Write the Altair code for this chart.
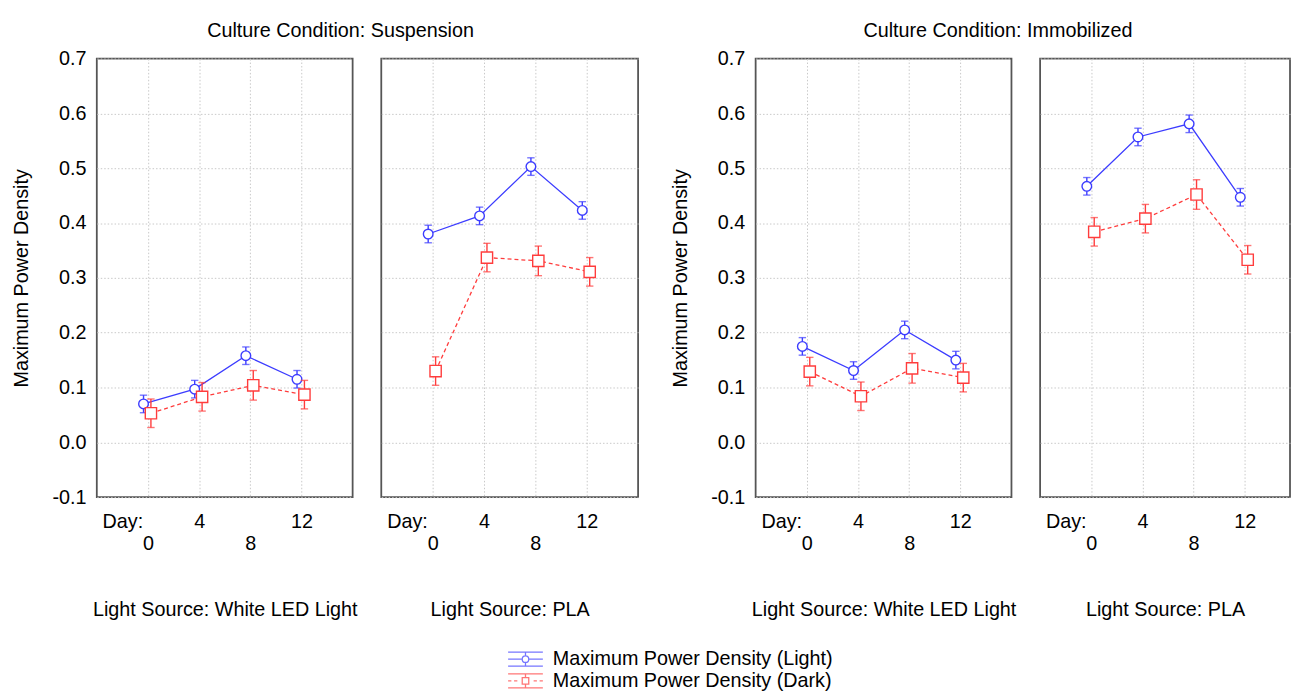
import altair as alt
import pandas as pd

# ---------------- data ----------------
days = [0, 4, 8, 12]

susp_white_light = [0.070, 0.097, 0.158, 0.115]
susp_white_dark = [0.053, 0.083, 0.104, 0.087]
susp_pla_light = [0.380, 0.413, 0.503, 0.423]
susp_pla_dark = [0.130, 0.337, 0.331, 0.311]
imm_white_light = [0.175, 0.131, 0.205, 0.150]
imm_white_dark = [0.129, 0.084, 0.135, 0.118]
imm_pla_light = [0.467, 0.557, 0.581, 0.447]
imm_pla_dark = [0.384, 0.408, 0.452, 0.333]

light_err = [0.016, 0.016, 0.016, 0.016]
dark_err = [0.026, 0.026, 0.027, 0.026]

y_ticks = [-0.1, 0.0, 0.1, 0.2, 0.3, 0.4, 0.5, 0.6, 0.7]
x_ticks = [-2, 0, 4, 8, 12]
legend_labels = ["Maximum Power Density (Light)", "Maximum Power Density (Dark)"]

FONT = "Liberation Sans"
FS = 20
BLUE = "#3c3cff"
RED = "#ff3c3c"
GRID = "#c8c8c8"
FRAME = "#555555"
LIGHT_OFF = -4.5
DARK_OFF = 3
PH = 444


def make_df(light, dark):
    rows = []
    for d, v, e in zip(days, light, light_err):
        rows.append({"day": d, "value": v, "lo": v - e, "hi": v + e, "series": "Light"})
    for d, v, e in zip(days, dark, dark_err):
        rows.append({"day": d, "value": v, "lo": v - e, "hi": v + e, "series": "Dark"})
    return pd.DataFrame(rows)


def panel(df, xtitle, width, xmax, show_y):
    xaxis = alt.Axis(
        values=x_ticks,
        labelExpr="datum.value == -2 ? 'Day:' : (datum.value % 8 == 0 ? ['', datum.label] : datum.label)",
        labelFontSize=FS, labelFont=FONT, labelColor="black", labelPadding=14.5,
        labelLineHeight=23, labelOverlap=False, labelBound=False, labelFlush=False,
        labelBaseline="top",
        ticks=False, domain=False,
        grid=True, gridColor=GRID, gridDash=[1.5, 2], gridWidth=1,
        gridOpacity={"condition": {"test": "datum.value == -2", "value": 0}, "value": 1},
        title=xtitle, titleFontSize=FS, titleFont=FONT, titleFontWeight="normal",
        titleColor="black", titlePadding=46.5,
    )
    xs = alt.Scale(domain=[-4, xmax], nice=False, zero=False)
    if show_y:
        yaxis = alt.Axis(
            values=y_ticks,
            labelExpr="datum.value < -0.0001 ? '-' + format(-datum.value, '.1f') : format(abs(datum.value), '.1f')",
            labelFontSize=FS, labelFont=FONT,
            labelColor="black", labelPadding=11, ticks=False, domain=False,
            grid=True, gridColor=GRID, gridDash=[1.5, 2],
            title="Maximum Power Density", titleFontSize=FS, titleFont=FONT,
            titleFontWeight="normal", titleColor="black", titlePadding=21,
        )
    else:
        yaxis = alt.Axis(
            values=y_ticks, labels=False, ticks=False, domain=False,
            grid=True, gridColor=GRID, gridDash=[1.5, 2], title="",
        )
    ys = alt.Scale(domain=[-0.1, 0.7], nice=False, zero=False)

    def X():
        return alt.X("day:Q", scale=xs, axis=xaxis)

    def Y(field):
        return alt.Y(f"{field}:Q", scale=ys, axis=yaxis)

    base = alt.Chart(df)
    layers = []
    for ser, col, off, dash, shape, size in [
        ("Light", BLUE, LIGHT_OFF, None, "circle", 95),
        ("Dark", RED, DARK_OFF, [4, 3], "square", 130),
    ]:
        b = base.transform_filter(f"datum.series == '{ser}'")
        line_kw = dict(color=col, strokeWidth=1.3, xOffset=off)
        if dash:
            line_kw["strokeDash"] = dash
        layers.append(b.mark_line(**line_kw).encode(x=X(), y=Y("value")))
        layers.append(
            b.mark_rule(color=col, strokeWidth=1.4, xOffset=off).encode(
                x=X(), y=Y("lo"), y2="hi:Q"
            )
        )
        for f in ["lo", "hi"]:
            layers.append(
                b.mark_tick(color=col, orient="horizontal", size=7.5, thickness=1.4,
                            xOffset=off).encode(x=X(), y=Y(f))
            )
        layers.append(
            b.mark_point(shape=shape, size=size, filled=True, fill="white",
                         stroke=col, strokeWidth=1.4, opacity=1, xOffset=off).encode(
                x=X(), y=Y("value")
            )
        )
    return alt.layer(*layers).properties(
        width=width, height=PH,
        view=alt.ViewBackground(stroke=FRAME, strokeWidth=1.8),
    )


p1 = panel(make_df(susp_white_light, susp_white_dark), "Light Source: White LED Light", 259, 16, True)
p2 = panel(make_df(susp_pla_light, susp_pla_dark), "Light Source: PLA", 260, 16, False)
p3 = panel(make_df(imm_white_light, imm_white_dark), "Light Source: White LED Light", 259, 16, True)
p4 = panel(make_df(imm_pla_light, imm_pla_dark), "Light Source: PLA", 253, 15.54, False)


def gtitle(text, dx):
    return alt.TitleParams(text, fontSize=FS, font=FONT, fontWeight="normal",
                           color="black", anchor="middle", offset=7, dx=dx)


g1 = alt.hconcat(p1, p2, spacing=22, title=gtitle("Culture Condition: Suspension", 16))
g2 = alt.hconcat(p3, p4, spacing=22, title=gtitle("Culture Condition: Immobilized", 18))
top = alt.hconcat(g1, g2, spacing=30)

LIGHT_PATH = ("M-1.6,-0.64H1.6M-1.6,0.64H1.6M0,-0.64V-0.3M0,0.3V0.64"
              "M-1.6,0H-0.3M0.3,0H1.6"
              "M0.3,0A0.3,0.3 0 1,1 -0.3,0A0.3,0.3 0 1,1 0.3,0Z")
DARK_PATH = ("M-1.6,-0.64H1.6M-1.6,0.64H1.6M0,-0.64V-0.3M0,0.3V0.64"
             "M-1.6,0H-1.3M-1.05,0H-0.75M0.75,0H1.05M1.3,0H1.6"
             "M-0.3,-0.3H0.3V0.3H-0.3Z")

leg_df = pd.DataFrame({"label": legend_labels})
legend_chart = (
    alt.Chart(leg_df)
    .transform_filter("false")
    .mark_point(filled=False, strokeWidth=1.3)
    .encode(
        color=alt.Color(
            "label:N",
            scale=alt.Scale(domain=legend_labels, range=[BLUE, RED]),
            legend=alt.Legend(
                orient="none", legendX=422, legendY=596, title="",
                labelFontSize=FS, labelFont=FONT, labelColor="black",
                labelLimit=600, padding=0,
                symbolSize=484, symbolStrokeWidth=1.3, labelOffset=15.6,
                rowPadding=-1.5, symbolFillColor="transparent",
            ),
        ),
        shape=alt.Shape(
            "label:N",
            scale=alt.Scale(domain=legend_labels, range=[LIGHT_PATH, DARK_PATH]),
        ),
    )
    .properties(width=1, height=1, view=alt.ViewBackground(strokeWidth=0))
)

chart = (
    alt.vconcat(top, legend_chart, spacing=4)
    .properties(padding={"left": 10, "top": 17, "right": 0, "bottom": 0})
    .configure_view(stroke=FRAME, strokeWidth=1.8)
    .configure(background="white")
)

chart.save("out.html", embed_options={"renderer": "svg", "actions": False})
